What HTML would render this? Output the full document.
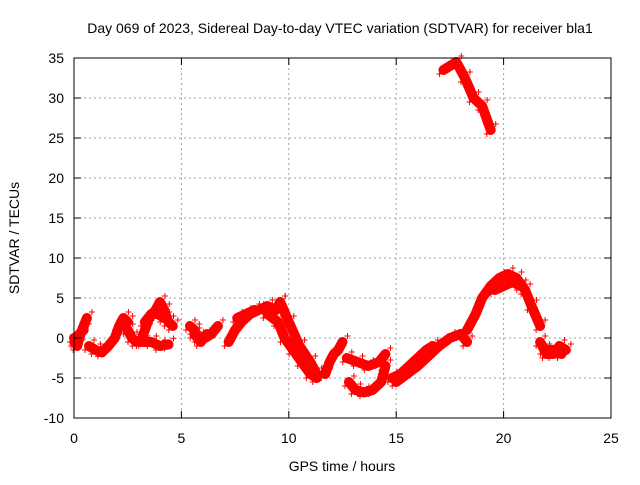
<!DOCTYPE html>
<html><head><meta charset="utf-8"><style>
body{margin:0;background:#fff}
svg text{font-family:"Liberation Sans",sans-serif;font-size:14px;fill:#000}
</style></head><body>
<svg width="640" height="480" id="c">
<rect width="640" height="480" fill="#fff"/>
<text x="340" y="33" text-anchor="middle">Day 069 of 2023, Sidereal Day-to-day VTEC variation (SDTVAR) for receiver bla1</text>
<text x="342" y="471" text-anchor="middle">GPS time / hours</text>
<text transform="translate(19,238) rotate(-90)" text-anchor="middle">SDTVAR / TECUs</text>
<g id="grid"></g><g id="marks"></g>
<rect x="74" y="58" width="537" height="360" fill="none" stroke="#000" stroke-width="1"/>
<g id="ticks"></g>
</svg>
<script>
const xTicks=[0,5,10,15,20,25];
const yTicks=[-10,-5,0,5,10,15,20,25,30,35];
const trackHours=[
[0,0.15,0.3,0.45,0.6],
[0.05,0.25,0.45],
[0.7,1,1.3,1.6,1.9,2.1,2.3,2.5],
[2.5,2.7,2.9],
[3.1,3.3,3.5,3.8,4,4.2,4.4,4.6],
[3.3,3.6,3.9,4.2],
[3.2,3.6,4,4.4],
[5.4,5.6,5.8,6.1,6.4,6.7],
[5.6,5.9,6.2],
[7.2,7.5,7.8,8.2,8.6,9,9.4,9.6],
[7.6,8,8.4],
[9,9.5,9.8,10.2,10.6,11,11.3],
[9.6,10,10.5,11,11.3],
[11.7,11.9,12.1,12.3,12.5],
[12.8,13.1,13.5,13.9,14.3,14.5],
[12.7,13.2,13.7,14.2,14.5],
[14.8,15.2,15.6,16,16.4,16.7],
[15,15.5,16,16.6,17,17.5,18,18.3],
[18.3,18.7,19,19.4,19.8,20.2,20.6,21,21.3,21.7],
[19.6,20,20.4,20.8],
[21.7,22,22.3,22.6,22.9],
[21.9,22.3,22.7],
[17.2,17.5,17.8,18.2,18.6,19,19.4]
];
const trackValues=[
[0,-1,0.5,1.5,2.5],
[-0.5,0.5,1],
[-1,-1.5,-1.8,-1,0,1.5,2.5,2],
[1,0,-0.5],
[-0.5,1,2.5,3.5,4.5,3.5,2,1.5],
[2,3,3,2.5],
[-0.5,-0.5,-1,-0.8],
[1.5,1,0,0,0.5,1.5],
[0.5,-0.5,0.5],
[-0.5,1,2,3,3.5,4,3.5,4.5],
[2.5,3,3.5],
[3,2,0,-1.5,-3,-4.5,-5],
[4.5,2,-1,-3,-4.5],
[-4.5,-3,-2,-1.5,-0.5],
[-5.5,-6.5,-6.8,-6.5,-5.5,-3.5],
[-2.5,-3,-3.5,-3,-2],
[-5,-4.5,-3.5,-2.5,-1.5,-1],
[-5.5,-4.5,-3.5,-2,-1,0,0.5,-0.5],
[1,3,5,6.5,7.5,8,7.5,6,4,1.5],
[6,6.5,7,6.5],
[-0.5,-2,-2,-1,-1.5],
[-1.5,-1.5,-2],
[33.5,34,34.5,32.5,30,29,26]
];
const X=h=>74+h*537/25, Y=v=>338-v*8;
const NS="http://www.w3.org/2000/svg";
const grid=document.getElementById('grid'),ticks=document.getElementById('ticks'),marks=document.getElementById('marks');
function mk(tag,attrs,parent){const e=document.createElementNS(NS,tag);for(const k in attrs)e.setAttribute(k,attrs[k]);parent.appendChild(e);return e;}
xTicks.forEach(t=>{
 if(t>0&&t<25){const g=mk('line',{x1:X(t),x2:X(t),y1:58,y2:418,stroke:'#a0a0a0','stroke-dasharray':'2,3'},grid);
 
 }
 mk('line',{x1:X(t),x2:X(t),y1:418,y2:411,stroke:'#000'},ticks);
 mk('line',{x1:X(t),x2:X(t),y1:58,y2:65,stroke:'#000'},ticks);
 const tx=mk('text',{x:X(t),y:443,'text-anchor':'middle'},ticks);tx.textContent=t;
 
 
});
yTicks.forEach(t=>{
 if(t>-10&&t<35){const g=mk('line',{x1:74,x2:611,y1:Y(t),y2:Y(t),stroke:'#a0a0a0','stroke-dasharray':'2,3'},grid);
 
 }
 mk('line',{x1:74,x2:81,y1:Y(t),y2:Y(t),stroke:'#000'},ticks);
 mk('line',{x1:611,x2:604,y1:Y(t),y2:Y(t),stroke:'#000'},ticks);
 const tx=mk('text',{x:64,y:Y(t)+5,'text-anchor':'end'},ticks);tx.textContent=t;
 
 
});
trackHours.forEach((hs,i)=>{
 const pts=hs.map((h,j)=>X(h)+','+Y(trackValues[i][j])).join(' ');
 const p=mk('polyline',{points:pts,fill:'none',stroke:'#ff0000','stroke-width':10,'stroke-linejoin':'round','stroke-linecap':'round'},marks);
 
 
 hs.forEach((h,j)=>{const x=X(h),y=Y(trackValues[i][j]);
  const m=mk('path',{d:`M${x-7},${y+4}h6M${x-4},${y+1}v6M${x+2},${y-6}h6M${x+5},${y-9}v6`,stroke:'#ff0000','stroke-width':1},marks);
  
  });
});
</script>
</body></html>
